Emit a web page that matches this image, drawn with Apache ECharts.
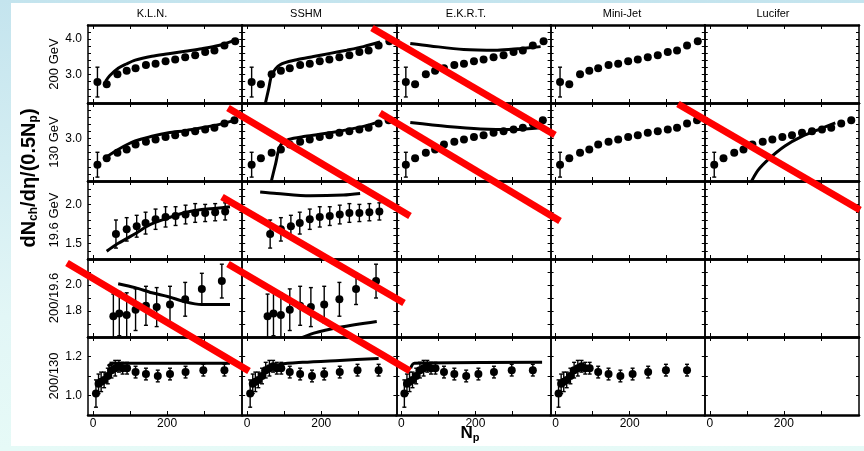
<!DOCTYPE html>
<html>
<head>
<meta charset="utf-8">
<script src="https://cdn.jsdelivr.net/npm/echarts@6/dist/echarts.min.js"></script>
<style>
html, body { margin: 0; padding: 0; }
body { width: 864px; height: 451px; overflow: hidden; background: linear-gradient(to bottom, #c4e4ee, #e2f6f6 70%, #e6faf7); position: relative; }
#paper { position: absolute; left: 11px; top: 3px; width: 853px; height: 443px; background: #fff; }
#main { position: absolute; left: 0; top: 0; width: 864px; height: 451px; }
</style>
</head>
<body>
<div id="paper"></div>
<div id="main"></div>
<script>
// column (model) and row (energy / ratio) names
const models = ['K.L.N.', 'SSHM', 'E.K.R.T.', 'Mini-Jet', 'Lucifer'];
const rowNames = ['200 GeV', '130 GeV', '19.6 GeV', '200/19.6', '200/130'];

// axis settings per row
const yMins = [2.2, 1.8, 1.3, 1.6, 0.9];
const yMaxs = [4.4, 4.0, 2.3, 2.2, 1.3];
const ySteps = [0.2, 0.2, 0.1, 0.1, 0.1];
const yLabels = [[3.0, 4.0], [3.0], [1.5, 2.0], [1.8, 2.0], [1.0, 1.2]];
const xTicks = [0, 100, 200, 300];
const xLabels = [0, 200];

// measured points: Np, value, error
const np200 = [12, 37, 66, 91, 115, 143, 169, 196, 222, 249, 276, 303, 328, 355, 384];
const y200 = [2.79, 2.73, 3.01, 3.11, 3.18, 3.27, 3.31, 3.38, 3.43, 3.49, 3.55, 3.64, 3.68, 3.82, 3.94];
const e200 = [0.42, 0.06, 0.05, 0.05, 0.05, 0.05, 0.05, 0.05, 0.05, 0.05, 0.05, 0.05, 0.05, 0.05, 0.05];

const np130 = [12, 37, 66, 91, 115, 143, 169, 196, 222, 249, 276, 303, 328, 355, 382];
const y130 = [2.26, 2.44, 2.60, 2.69, 2.83, 2.91, 2.97, 3.04, 3.09, 3.16, 3.20, 3.25, 3.30, 3.42, 3.51];
const e130 = [0.35, 0.07, 0.05, 0.05, 0.05, 0.05, 0.05, 0.05, 0.05, 0.05, 0.05, 0.05, 0.05, 0.05, 0.05];

const np19 = [62, 91, 118, 142, 169, 196, 223, 250, 276, 303, 330, 357];
const y19 = [1.62, 1.68, 1.72, 1.76, 1.81, 1.84, 1.85, 1.87, 1.89, 1.89, 1.90, 1.91];
const e19 = [0.18, 0.15, 0.14, 0.14, 0.13, 0.13, 0.12, 0.12, 0.12, 0.11, 0.11, 0.11];

const npR196 = [55, 71, 91, 115, 143, 172, 208, 249, 294, 348];
const yR196 = [1.76, 1.78, 1.77, 1.81, 1.84, 1.83, 1.85, 1.89, 1.97, 2.03];
const eR196 = [0.17, 0.17, 0.17, 0.16, 0.15, 0.15, 0.14, 0.13, 0.12, 0.13];

const npR130 = [8, 15, 22, 30, 40, 50, 60, 70, 80, 92, 115, 143, 175, 208, 250, 298, 355];
const yR130 = [1.01, 1.06, 1.07, 1.08, 1.10, 1.13, 1.14, 1.15, 1.14, 1.14, 1.12, 1.11, 1.10, 1.11, 1.12, 1.13, 1.13];
const eR130 = [0.07, 0.05, 0.05, 0.04, 0.04, 0.04, 0.04, 0.03, 0.03, 0.03, 0.03, 0.03, 0.03, 0.03, 0.03, 0.03, 0.03];

// model curves [Np, value]
const kln200 = [[34, 2.81], [45, 2.97], [68, 3.18], [90, 3.30], [114, 3.41], [159, 3.52], [204, 3.59], [249, 3.66], [294, 3.73], [339, 3.82], [388, 3.99]];
const kln130 = [[28, 2.42], [68, 2.69], [114, 2.93], [159, 3.06], [204, 3.16], [249, 3.22], [294, 3.30], [339, 3.39], [388, 3.53]];
const kln19 = [[37, 1.40], [64, 1.49], [109, 1.61], [154, 1.74], [199, 1.82], [244, 1.89], [289, 1.93], [334, 1.95], [370, 1.97]];
const klnR196 = [[68, 2.01], [114, 1.98], [159, 1.94], [204, 1.91], [249, 1.87], [294, 1.85], [370, 1.85]];
const klnR130 = [[40, 1.15], [55, 1.165], [370, 1.165]];

const sshm200 = [[45, 2.0], [58, 2.6], [67, 3.0], [89, 3.28], [134, 3.42], [179, 3.51], [224, 3.60], [269, 3.69], [314, 3.79], [359, 3.92]];
const sshm130 = [[63, 1.7], [77, 2.3], [89, 2.79], [112, 2.97], [157, 3.06], [224, 3.16], [314, 3.34], [359, 3.48]];
const sshm19 = [[35, 2.16], [80, 2.14], [170, 2.11], [260, 2.12], [305, 2.14]];
const sshmR196 = [[135, 1.58], [180, 1.63], [250, 1.675], [350, 1.72]];
const sshmR130 = [[40, 1.12], [60, 1.14], [90, 1.16], [150, 1.17], [250, 1.18], [355, 1.19]];

const ekrt200 = [[24, 3.88], [78, 3.81], [168, 3.71], [259, 3.69], [322, 3.74], [376, 3.79]];
const ekrt130 = [[24, 3.45], [124, 3.34], [214, 3.27], [304, 3.25], [376, 3.30]];
const ekrtR130 = [[25, 1.14], [35, 1.165], [380, 1.17]];

const lucifer130 = [[108, 1.7], [130, 2.1], [159, 2.42], [203, 2.79], [249, 3.06], [294, 3.25], [339, 3.44]];

// red strike-outs, in page pixels [x1, y1, x2, y2]
const strikes = [
    [372, 28, 555, 135],
    [228, 108, 410, 216],
    [380, 113, 560, 221],
    [678, 104, 860, 210],
    [222, 197, 404, 303],
    [67, 263, 249, 371],
    [228, 264, 410, 371]
];

// which panels show data, and which curve each has
const rowData = [
    [np200, y200, e200],
    [np130, y130, e130],
    [np19, y19, e19],
    [npR196, yR196, eR196],
    [npR130, yR130, eR130]
];
const hasData = [
    [1, 1, 1, 1, 0],
    [1, 1, 1, 1, 1],
    [1, 1, 0, 0, 0],
    [1, 1, 0, 0, 0],
    [1, 1, 1, 1, 0]
];
const curves = [
    [kln200, sshm200, ekrt200, null, null],
    [kln130, sshm130, ekrt130, null, lucifer130],
    [kln19, sshm19, null, null, null],
    [klnR196, sshmR196, null, null, null],
    [klnR130, sshmR130, ekrtR130, null, null]
];

const FONT = '"Liberation Sans", Arial, sans-serif';
const chart = echarts.init(document.getElementById('main'));

const grids = [], xAxes = [], yAxes = [], series = [];
const colW = 154.2, rowH = 78;

for (let r = 0; r < 5; r++) {
    for (let c = 0; c < 5; c++) {
        const g = r * 5 + c;
        grids.push({ left: 88 + c * colW, top: 25 + r * rowH, width: colW, height: rowH, containLabel: false });

        const xBase = {
            gridIndex: g, type: 'value', min: -13.5, max: 403,
            axisLine: { show: true, onZero: false, lineStyle: { color: '#000', width: 2.5 } },
            axisTick: { show: true, inside: true, length: 4, customValues: xTicks, lineStyle: { color: '#000', width: 1 } },
            splitLine: { show: false }
        };
        xAxes.push(Object.assign({}, xBase, {
            position: 'bottom',
            axisLabel: { show: r === 4, customValues: xLabels, margin: 3, color: '#000', fontSize: 12, fontFamily: FONT }
        }));
        xAxes.push(Object.assign({}, xBase, { position: 'top', axisLabel: { show: false } }));

        const labs = yLabels[r];
        const yBase = {
            gridIndex: g, type: 'value', min: yMins[r], max: yMaxs[r], interval: ySteps[r],
            axisLine: { show: true, onZero: false, lineStyle: { color: '#000', width: 1.5 } },
            axisTick: { show: true, inside: true, length: 3, lineStyle: { color: '#000', width: 1 } },
            splitLine: { show: false }
        };
        yAxes.push(Object.assign({}, yBase, {
            position: 'left',
            axisLabel: {
                show: c === 0, margin: 6, color: '#000', fontSize: 12, fontFamily: FONT,
                showMinLabel: true, showMaxLabel: true,
                formatter: function (v) {
                    return labs.some(function (l) { return Math.abs(l - v) < 1e-6; }) ? v.toFixed(1) : '';
                }
            },
            name: c === 0 ? rowNames[r] : '',
            nameLocation: 'middle', nameGap: 26,
            nameTextStyle: { color: '#000', fontSize: 13, fontFamily: FONT }
        }));
        yAxes.push(Object.assign({}, yBase, { position: 'right', axisLabel: { show: false } }));

        const xi = 2 * g, yi = 2 * g;
        if (hasData[r][c]) {
            const [np, vals, errs] = rowData[r];
            series.push({
                type: 'custom', xAxisIndex: xi, yAxisIndex: yi, clip: true, silent: true, z: 3,
                data: np.map(function (x, i) { return [x, vals[i] - errs[i], vals[i] + errs[i]]; }),
                encode: { x: 0, y: [1, 2] },
                renderItem: function (params, api) {
                    const lo = api.coord([api.value(0), api.value(1)]);
                    const hi = api.coord([api.value(0), api.value(2)]);
                    const st = { stroke: '#000', lineWidth: 1.4 };
                    return {
                        type: 'group', children: [
                            { type: 'line', shape: { x1: lo[0], y1: lo[1], x2: hi[0], y2: hi[1] }, style: st },
                            { type: 'line', shape: { x1: lo[0] - 2, y1: lo[1], x2: lo[0] + 2, y2: lo[1] }, style: st },
                            { type: 'line', shape: { x1: hi[0] - 2, y1: hi[1], x2: hi[0] + 2, y2: hi[1] }, style: st }
                        ]
                    };
                }
            });
            series.push({
                type: 'scatter', xAxisIndex: xi, yAxisIndex: yi, silent: true, z: 4,
                symbol: 'circle', symbolSize: 8,
                itemStyle: { color: '#000', opacity: 1 },
                data: np.map(function (x, i) { return [x, vals[i]]; })
            });
        }
        const cv = curves[r][c];
        if (cv) {
            series.push({
                type: 'line', xAxisIndex: xi, yAxisIndex: yi, silent: true, z: 3, clip: true,
                data: cv, symbol: 'none', smooth: 0.3,
                lineStyle: { color: '#000', width: 3, opacity: 1 }
            });
        }
    }
}

// overlay grid in page pixels for the red strike-outs
grids.push({ left: 0, top: 0, width: 864, height: 451 });
xAxes.push({ gridIndex: 25, type: 'value', min: 0, max: 864, show: false });
yAxes.push({ gridIndex: 25, type: 'value', min: 0, max: 451, inverse: true, show: false });
strikes.forEach(function (s) {
    series.push({
        type: 'line', xAxisIndex: 50, yAxisIndex: 50, silent: true, z: 10, clip: false,
        data: [[s[0], s[1]], [s[2], s[3]]], symbol: 'none',
        lineStyle: { color: '#ff0000', width: 7, cap: 'butt', opacity: 1 }
    });
});

const titleX = [152, 306, 466, 622, 773];
const graphics = models.map(function (m, i) {
    return {
        type: 'text', x: titleX[i], y: 14,
        style: { text: m, fill: '#000', fontSize: 11, fontFamily: FONT, align: 'center', verticalAlign: 'middle' }
    };
});
graphics.push({
    type: 'text', x: 470, y: 433,
    style: {
        text: '{n|N}{s|p}', align: 'center', verticalAlign: 'middle',
        rich: {
            n: { fontSize: 17, fontWeight: 'bold', fontFamily: FONT, fill: '#000' },
            s: { fontSize: 11, fontWeight: 'bold', fontFamily: FONT, fill: '#000', padding: [9, 0, 0, 0] }
        }
    }
});
graphics.push({
    type: 'text', x: 29, y: 178, rotation: Math.PI / 2,
    style: {
        text: '{a|dN}{b|ch}{a|/dη/(0.5N}{b|p}{a|)}', align: 'center', verticalAlign: 'middle',
        rich: {
            a: { fontSize: 20, fontWeight: 'bold', fontFamily: FONT, fill: '#000' },
            b: { fontSize: 12, fontWeight: 'bold', fontFamily: FONT, fill: '#000', padding: [10, 0, 0, 0] }
        }
    }
});

chart.setOption({
    backgroundColor: 'transparent',
    animation: false,
    grid: grids,
    xAxis: xAxes,
    yAxis: yAxes,
    series: series,
    graphic: graphics
});
</script>
</body>
</html>
